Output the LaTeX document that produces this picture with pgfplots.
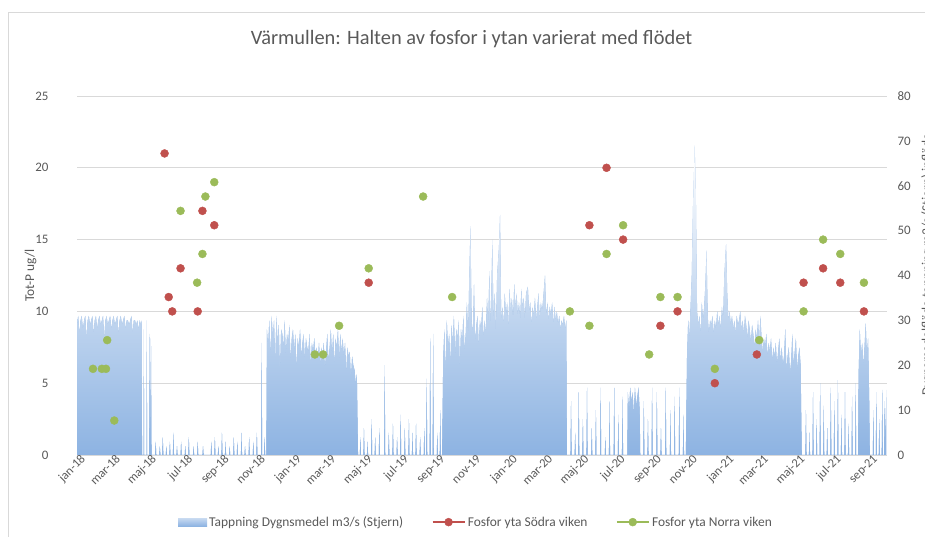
\documentclass[border=0pt]{standalone}
\usepackage{pgfplots}
\pgfplotsset{compat=1.18}
\usepackage{pgfplotstable}
\usepackage{fontspec}
\setmainfont{Carlito}
\definecolor{txt}{RGB}{89,89,89}
\definecolor{grd}{RGB}{217,217,217}
\definecolor{rd}{RGB}{192,80,77}
\definecolor{gn}{RGB}{155,187,89}
\definecolor{ab}{RGB}{141,179,226}
\definecolor{am}{RGB}{200,218,241}

\pgfplotstableread[row sep=\\]{d f\\
0 29\\ 2 31\\ 4 27\\ 6 30\\ 8 31\\ 10 28\\ 12 30\\ 14 31\\ 16 26\\ 18 30\\ 20 31\\ 22 29\\ 24 30\\ 26 31\\ 28 27\\ 30 30\\ 32 31\\ 34 28\\ 36 30\\ 38 31\\ 40 29\\ 42 30\\ 44 31\\ 46 26\\ 48 30\\ 50 31\\ 52 29\\ 54 30\\ 56 31\\ 58 28\\ 60 30\\ 62 31\\ 64 29\\ 66 30\\ 68 31\\ 70 27\\ 72 30\\ 74 31\\ 76 29\\ 78 30\\ 80 31\\ 82 28\\ 84 30\\ 86 30\\ 88 29\\ 90 30\\ 92 31\\ 94 27\\ 96 30\\ 98 30\\ 100 29\\ 102 30\\ 104 28\\ 106 30\\ 108 29\\ 109 30\\ 110 0\\
112.5 0\\ 113 28\\ 113.5 0\\ 117.5 0\\ 118 30\\ 118.5 0\\ 122 0\\ 122.5 27\\ 123.5 4\\ 125 26\\ 126 0\\
132 0\\ 133 3\\ 134 0\\ 139 0\\ 140 2\\ 141 0\\ 144 0\\ 145 4\\ 146 0\\ 150 0\\ 151 2\\ 152 0\\ 156 0\\ 157 3\\ 158 0\\ 162 0\\ 163 5\\ 164 0\\ 168 0\\ 169 2\\ 170 0\\ 175 0\\ 176 3\\ 177 0\\ 182 0\\ 183 2\\ 184 0\\ 188 0\\ 189 4\\ 190 0\\ 196 0\\ 197 2\\ 198 0\\ 203 0\\ 204 3\\ 205 0\\ 212 0\\ 213 2\\ 214 0\\ 226 0\\ 227 3\\ 228 0\\ 232 0\\ 233 4\\ 234 0\\ 238 0\\ 239 2\\ 240 0\\ 244 0\\ 245 5\\ 246 0\\ 250 0\\ 251 3\\ 252 0\\ 257 0\\ 258 2\\ 259 0\\ 264 0\\ 265 4\\ 266 0\\ 270 0\\ 271 3\\ 272 0\\ 277 0\\ 278 5\\ 279 0\\ 283 0\\ 284 2\\ 285 0\\ 290 0\\ 291 4\\ 292 0\\ 297 0\\ 298 3\\ 299 0\\ 303 0\\ 304 5\\ 305 0\\ 311 0\\ 312 25\\ 313 0\\ 316 0\\ 317 4\\ 318 0\\
320 0\\ 321 28\\ 323 24\\ 325 30\\ 327 22\\ 329 31\\ 331 26\\ 333 30\\ 335 20\\ 337 31\\ 339 25\\ 341 29\\ 343 18\\ 345 28\\ 347 27\\ 349 24\\ 351 30\\ 353 22\\ 355 27\\ 357 25\\ 359 29\\ 361 21\\ 363 26\\ 365 28\\ 367 23\\ 369 27\\ 371 19\\ 373 26\\ 375 24\\ 377 28\\ 379 22\\ 381 25\\ 383 27\\ 385 21\\ 387 26\\ 389 24\\ 391 23\\ 393 27\\ 395 20\\ 397 25\\ 399 23\\ 401 26\\ 403 22\\ 405 24\\ 407 21\\ 409 25\\ 411 20\\ 413 24\\ 415 22\\ 417 25\\ 419 19\\ 421 23\\ 423 27\\ 425 21\\ 427 24\\ 429 28\\ 431 22\\ 433 27\\ 435 20\\ 437 26\\ 439 24\\ 441 28\\ 443 21\\ 445 27\\ 447 23\\ 449 26\\ 451 22\\ 453 25\\ 455 18\\ 457 24\\ 459 22\\ 461 23\\ 463 17\\ 465 22\\ 467 20\\ 469 19\\ 471 16\\ 473 18\\ 475 0\\
478 0\\ 479 4\\ 480 0\\ 484 0\\ 485 6\\ 486 0\\ 490 0\\ 491 3\\ 492 0\\ 497 0\\ 498 8\\ 499 0\\ 503 0\\ 504 4\\ 505 0\\ 510 0\\ 511 6\\ 512 0\\ 519 0\\ 520 20\\ 521 0\\ 526 0\\ 527 5\\ 528 0\\ 533 0\\ 534 7\\ 535 0\\ 540 0\\ 541 4\\ 542 0\\ 546 0\\ 547 9\\ 548 0\\ 553 0\\ 554 6\\ 555 0\\ 560 0\\ 561 8\\ 562 0\\ 566 0\\ 567 5\\ 568 0\\ 572 0\\ 573 7\\ 574 0\\ 579 0\\ 580 4\\ 581 0\\ 586 0\\ 587 6\\ 588 0\\ 590 0\\ 591 17\\ 592 0\\ 596 0\\ 597 26\\ 598 0\\ 601 0\\ 602 27\\ 603 0\\ 608 0\\ 609 5\\ 610 0\\ 613 0\\ 614 10\\ 615 0\\
617 0\\ 619 22\\ 621 28\\ 623 18\\ 625 30\\ 627 24\\ 629 27\\ 631 20\\ 633 29\\ 635 25\\ 637 31\\ 639 22\\ 641 28\\ 643 26\\ 645 30\\ 647 19\\ 649 28\\ 651 25\\ 653 31\\ 655 23\\ 657 27\\ 659 34\\ 661 26\\ 663 40\\ 665 51\\ 667 30\\ 669 27\\ 671 38\\ 673 25\\ 675 29\\ 677 31\\ 679 24\\ 681 30\\ 683 28\\ 685 33\\ 687 26\\ 689 30\\ 691 27\\ 693 35\\ 695 29\\ 697 41\\ 699 28\\ 702 48\\ 704 30\\ 706 36\\ 708 27\\ 710 40\\ 713 46\\ 715 53.5\\ 717 30\\ 719 33\\ 721 29\\ 723 36\\ 725 31\\ 727 34\\ 729 28\\ 731 37\\ 733 32\\ 735 35\\ 737 30\\ 739 38\\ 741 33\\ 743 36\\ 745 31\\ 747 34\\ 749 30\\ 751 37\\ 753 33\\ 755 35\\ 757 30\\ 759 36\\ 762 37.5\\ 764 32\\ 766 34\\ 768 29\\ 770 33\\ 772 31\\ 774 35\\ 776 30\\ 778 33\\ 780 36\\ 782 30\\ 784 34\\ 786 32\\ 788 35\\ 791 40\\ 793 31\\ 795 34\\ 797 30\\ 799 33\\ 801 31\\ 803 34\\ 805 29\\ 807 33\\ 809 30\\ 811 32\\ 813 29\\ 815 31\\ 817 28\\ 819 30\\ 821 29\\ 823 31\\ 825 28\\ 827 30\\ 828 0\\
834 0\\ 835 12\\ 836 0\\ 841 0\\ 842 5\\ 843 0\\ 847 0\\ 848 14\\ 849 0\\ 854 0\\ 855 8\\ 856 0\\ 861 0\\ 862 15\\ 863 0\\ 869 0\\ 870 6\\ 871 0\\ 876 0\\ 877 10\\ 878 0\\ 884 0\\ 885 15\\ 886 0\\ 892 0\\ 893 4\\ 894 0\\ 899 0\\ 900 12\\ 901 0\\ 907 0\\ 908 15\\ 909 0\\ 914 0\\ 915 9\\ 916 0\\ 921 0\\ 922 13\\ 923 0\\ 930 0\\ 931 14\\ 933 10\\ 935 15\\ 937 12\\ 939 14\\ 941 9\\ 943 15\\ 945 11\\ 947 13\\ 949 15\\ 951 10\\ 952 0\\ 957 0\\ 958 12\\ 959 0\\ 964 0\\ 965 8\\ 966 0\\ 971 0\\ 972 15\\ 973 0\\ 979 0\\ 980 14\\ 981 0\\ 986 0\\ 987 6\\ 988 0\\ 994 0\\ 995 15\\ 996 0\\ 1002 0\\ 1003 10\\ 1004 0\\ 1009 0\\ 1010 13\\ 1011 0\\ 1017 0\\ 1018 15\\ 1019 0\\ 1024 0\\ 1025 9\\ 1026 0\\
1029 0\\ 1031 22\\ 1033 30\\ 1035 26\\ 1037 33\\ 1039 40\\ 1041 55\\ 1043 64\\ 1044 69\\ 1046 58\\ 1048 32\\ 1050 29\\ 1052 31\\ 1054 27\\ 1056 34\\ 1058 30\\ 1060 33\\ 1062 38\\ 1064 45.6\\ 1066 31\\ 1068 27\\ 1070 30\\ 1072 29\\ 1074 31\\ 1076 27\\ 1078 30\\ 1080 28\\ 1082 32\\ 1084 29\\ 1086 31\\ 1088 28\\ 1090 33\\ 1092 30\\ 1094 40\\ 1097 47\\ 1099 36\\ 1101 30\\ 1103 32\\ 1105 29\\ 1107 31\\ 1109 28\\ 1111 30\\ 1113 27\\ 1115 31\\ 1117 29\\ 1119 30\\ 1121 32\\ 1123 28\\ 1125 30\\ 1127 27\\ 1129 31\\ 1131 29\\ 1133 26\\ 1135 30\\ 1137 28\\ 1139 25\\ 1141 29\\ 1143 27\\ 1145 24\\ 1147 28\\ 1149 26\\ 1151 30\\ 1153 25\\ 1155 31\\ 1157 26\\ 1159 23\\ 1161 26\\ 1163 24\\ 1165 27\\ 1167 22\\ 1169 25\\ 1171 23\\ 1173 26\\ 1175 21\\ 1177 24\\ 1179 22\\ 1181 25\\ 1183 20\\ 1185 23\\ 1187 26\\ 1189 21\\ 1191 24\\ 1193 20\\ 1195 22\\ 1197 28\\ 1199 19\\ 1201 22\\ 1203 24\\ 1205 18\\ 1207 21\\ 1209 27\\ 1211 20\\ 1213 23\\ 1215 26\\ 1217 19\\ 1219 22\\ 1221 24\\ 1223 20\\ 1225 0\\
1231 0\\ 1232 10\\ 1233 0\\ 1237 0\\ 1238 5\\ 1239 0\\ 1243 0\\ 1244 14\\ 1245 0\\ 1249 0\\ 1250 8\\ 1251 0\\ 1255 0\\ 1256 16\\ 1257 0\\ 1261 0\\ 1262 11\\ 1263 0\\ 1267 0\\ 1268 6\\ 1269 0\\ 1273 0\\ 1274 15\\ 1275 0\\ 1279 0\\ 1280 12\\ 1281 0\\ 1285 0\\ 1286 16.7\\ 1287 0\\ 1291 0\\ 1292 9\\ 1293 0\\ 1297 0\\ 1298 14\\ 1299 0\\ 1303 0\\ 1304 7\\ 1305 0\\ 1309 0\\ 1310 13\\ 1311 0\\ 1315 0\\ 1316 16\\ 1317 0\\ 1320 0\\ 1321 18\\ 1323 28\\ 1325 22\\ 1327 25\\ 1329 20\\ 1331 24\\ 1333 29.4\\ 1335 22\\ 1337 26\\ 1339 12\\ 1340 0\\ 1345 0\\ 1346 10\\ 1347 0\\ 1350 0\\ 1351 14\\ 1352 0\\ 1355 0\\ 1356 8\\ 1357 0\\ 1360 0\\ 1361 14.5\\ 1362 0\\ 1364 0\\ 1365 12\\ 1366 3\\ 1368 14.5\\
}\flow

\pgfplotstableread[row sep=\\]{d p\\
148 21\\ 155 11\\ 161 10\\ 175 13\\ 204 10\\ 212 17\\ 232 16\\ 493 12\\ 866 16\\ 895 20\\ 923 15\\ 986 9\\ 1015 10\\ 1078 5\\ 1149 7\\ 1228 12\\ 1261 13\\ 1290 12\\ 1330 10\\
}\sodra

\pgfplotstableread[row sep=\\]{d p\\
27 6\\ 42 6\\ 49 6\\ 51 8\\ 63 2.4\\ 175 17\\ 203 12\\ 212 14\\ 217 18\\ 232 19\\ 402 7\\ 416 7\\ 443 9\\ 493 13\\ 585 18\\ 634 11\\ 833 10\\ 866 9\\ 895 14\\ 923 16\\ 967 7\\ 986 11\\ 1015 11\\ 1078 6\\ 1153 8\\ 1228 10\\ 1261 15\\ 1290 14\\ 1330 12\\
}\norra

\begin{document}
\begin{tikzpicture}
\draw[grd, line width=0.8pt] (8bp,-5bp) rectangle (940bp,525bp);
\node[font=\fontsize{20.5}{24}\selectfont, text=txt] at (471.5bp,498bp) {Värmullen: Halten av fosfor i ytan varierat med flödet};
\begin{axis}[set layers, scale only axis, width=810bp, height=359bp, at={(77bp,82bp)}, anchor=south west,
  xmin=0, xmax=1369, ymin=0, ymax=80,
  axis x line=none, axis y line*=right, y axis line style={draw=none}, major tick length=0,
  ytick={0,10,...,80},
  /pgf/number format/assume math mode=true,
  yticklabel style={font=\fontsize{13}{15}\selectfont, text=txt, xshift=7bp},
  ylabel={Dygnsmedelflöde tappning m3/s (Stjern) inflöde},
  ylabel style={at={(axis description cs:1.038,0.53)}, anchor=north, rotate=0, font=\fontsize{13.5}{16}\selectfont, text=txt},
]
\addplot[draw=none, fill=ab, top color=white, middle color=am, bottom color=ab] table[x=d,y=f]{\flow} \closedcycle;
\end{axis}
\begin{axis}[set layers, scale only axis, width=810bp, height=359bp, at={(77bp,82bp)}, anchor=south west,
  xmin=0, xmax=1369, ymin=0, ymax=25,
  axis x line*=bottom, axis y line*=left, y axis line style={draw=none},
  x axis line style={draw=grd, line width=0.8pt},
  major tick length=0,
  ytick={0,5,...,25}, ymajorgrids, grid style={grd, line width=0.8pt},
  xtick={0,59,120,181,243,304,365,424,485,546,608,669,730,790,851,912,974,1035,1096,1155,1216,1277,1339},
  xticklabels={jan-18,mar-18,maj-18,jul-18,sep-18,nov-18,jan-19,mar-19,maj-19,jul-19,sep-19,nov-19,jan-20,mar-20,maj-20,jul-20,sep-20,nov-20,jan-21,mar-21,maj-21,jul-21,sep-21},
  /pgf/number format/assume math mode=true,
  xticklabel style={font=\fontsize{12.5}{14}\selectfont, text=txt, rotate=45, anchor=north east, inner sep=1bp, xshift=4bp},
  yticklabel style={font=\fontsize{13}{15}\selectfont, text=txt, xshift=-25bp},
  ylabel={Tot-P ug/l},
  ylabel style={at={(axis description cs:-0.0457,0.5)}, anchor=south, rotate=0, font=\fontsize{13.5}{16}\selectfont, text=txt},
  legend style={at={(0.4926,-0.187)}, anchor=center, draw=none, fill=none, legend columns=-1,
    font=\fontsize{13.5}{16}\selectfont, text=txt,
    /tikz/every even column/.append style={column sep=26bp}},
  legend cell align=left,
]
\addlegendimage{legend image code/.code={\path[draw=none, top color=am, bottom color=ab] (0bp,-4bp) rectangle (29bp,4bp);}}
\addlegendimage{legend image code/.code={\draw[rd, line width=2.5bp] (0bp,0bp) -- (32bp,0bp); \fill[rd] (16bp,0bp) circle (4bp);}}
\addlegendimage{legend image code/.code={\draw[gn, line width=2.5bp] (0bp,0bp) -- (32bp,0bp); \fill[gn] (16bp,0bp) circle (4bp);}}
\addplot[only marks, mark=*, mark size=4bp, rd, mark options={draw=none, fill=rd}, forget plot] table[x=d,y=p]{\sodra};
\addplot[only marks, mark=*, mark size=4bp, gn, mark options={draw=none, fill=gn}, forget plot] table[x=d,y=p]{\norra};
\legend{Tappning Dygnsmedel m3/s (Stjern), Fosfor yta Södra viken, Fosfor yta Norra viken}
\end{axis}
\pgfresetboundingbox
\path[use as bounding box] (0,0) rectangle (925bp,537bp);
\end{tikzpicture}
\end{document}
